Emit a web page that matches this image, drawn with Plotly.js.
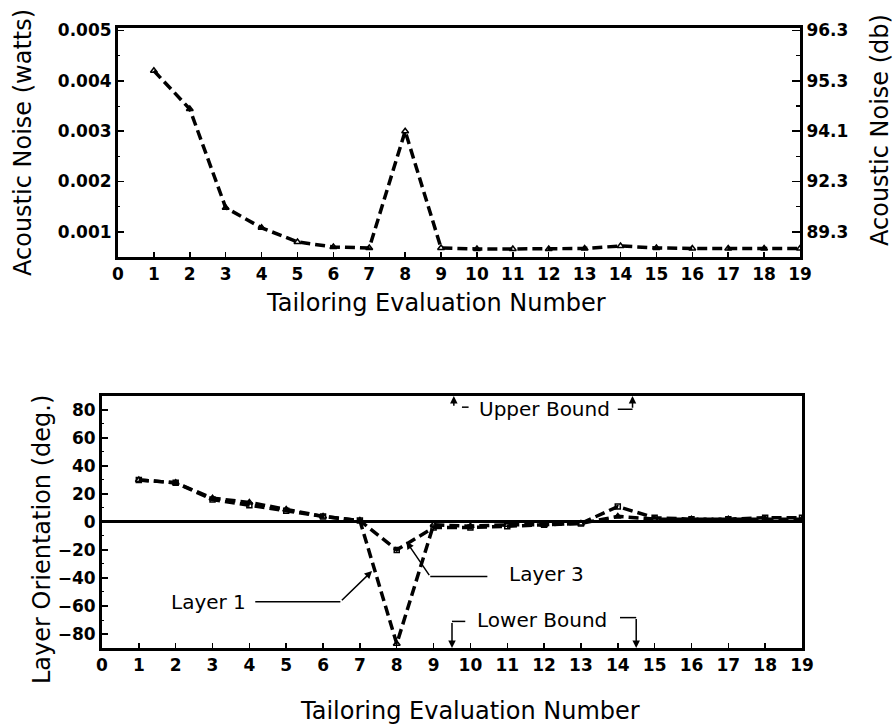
<!DOCTYPE html>
<html>
<head>
<meta charset="utf-8">
<script src="https://cdn.plot.ly/plotly-3.0.1.min.js"></script>
<style>html,body{margin:0;padding:0;background:#fff;}#chart{width:893px;height:724px;}</style>
</head>
<body>
<div id="chart"></div>
<script>
// ---- data ----
const evalNum = [1,2,3,4,5,6,7,8,9,10,11,12,13,14,15,16,17,18,19];
const noiseWatts = [0.0042,0.00344,0.00148,0.00108,0.0008,0.0007,0.00068,0.003,0.00068,0.00066,0.00066,0.00066,0.00067,0.00072,0.00068,0.00067,0.00067,0.00067,0.00067];
const layer1 = [30,28,17,14,9,4,1,-87,-2,-3,-2,-2,-1,4,2,2,2,2,2];
const layer3 = [30,28,16,12,8,4,1,-20,-4,-4,-3,-2,-1,11,3,2,2,3,3];
const wattTicks = [0.001,0.002,0.003,0.004,0.005];
const wattLabels = ['0.001','0.002','0.003','0.004','0.005'];
const dbLabels = ['89.3','92.3','94.1','95.3','96.3'];
const xTicks = [0,1,2,3,4,5,6,7,8,9,10,11,12,13,14,15,16,17,18,19];
const degTicks = [-80,-60,-40,-20,0,20,40,60,80];

const FONT = 'DejaVu Sans, Arial, sans-serif';
const tickFont = {family: FONT, size: 17, color: '#000', weight: 'bold'};
const titleFont = {family: FONT, size: 24, color: '#000'};
const noteFont = {family: FONT, size: 20, color: '#000'};
const dashLine = {color: '#000', width: 3.5, dash: '10px,5px'};

const traces = [
  {x: evalNum, y: noiseWatts, xaxis: 'x', yaxis: 'y', type: 'scatter', mode: 'lines+markers',
   line: dashLine, marker: {symbol: 'triangle-up-open', size: 6, color: '#000', line: {width: 1.5}}, name: 'Acoustic Noise (watts)'},
  // same series on the dB axis (the dB axis is a relabelling of the watts scale)
  {x: evalNum, y: noiseWatts, xaxis: 'x', yaxis: 'y2', type: 'scatter', mode: 'lines',
   line: {color: 'rgba(0,0,0,0)', width: 0}, hoverinfo: 'skip', name: 'Acoustic Noise (db)'},
  {x: evalNum, y: layer1, xaxis: 'x2', yaxis: 'y3', type: 'scatter', mode: 'lines+markers',
   line: dashLine, marker: {symbol: 'triangle-up-open', size: 6, color: '#000', line: {width: 1.5}}, name: 'Layer 1'},
  {x: evalNum, y: layer3, xaxis: 'x2', yaxis: 'y3', type: 'scatter', mode: 'lines+markers',
   line: dashLine, marker: {symbol: 'square-open', size: 5, color: '#000', line: {width: 1.5}}, name: 'Layer 3'}
];

const axisBase = {showgrid: false, zeroline: false, showline: true, linecolor: '#000', linewidth: 3,
  ticks: 'inside', tickcolor: '#000', tickwidth: 1.5, tickfont: tickFont, fixedrange: true};

const layout = {
  width: 893, height: 724,
  margin: {l: 102, r: 91, t: 28, b: 76},
  paper_bgcolor: '#fff', plot_bgcolor: '#fff',
  showlegend: false,
  xaxis: Object.assign({}, axisBase, {domain: [16/700, 698/700], anchor: 'y', range: [0, 19],
    tickvals: xTicks, ticklen: 5, mirror: true}),
  yaxis: Object.assign({}, axisBase, {domain: [0.6306, 1], anchor: 'x', range: [0.0005, 0.00505],
    tickvals: wattTicks, ticktext: wattLabels, ticklen: 6,
    minor: {ticks: 'inside', ticklen: 2, dtick: 0.0005, tick0: 0, tickcolor: '#000', tickwidth: 1}}),
  yaxis2: Object.assign({}, axisBase, {overlaying: 'y', side: 'right', anchor: 'x', range: [0.0005, 0.00505],
    tickvals: wattTicks, ticktext: dbLabels, ticklen: 8,
    minor: {ticks: 'inside', ticklen: 4, dtick: 0.0005, tick0: 0, tickcolor: '#000', tickwidth: 1.5}}),
  xaxis2: Object.assign({}, axisBase, {domain: [0, 1], anchor: 'y3', range: [0, 19],
    tickvals: xTicks, ticklen: 5, mirror: true}),
  yaxis3: Object.assign({}, axisBase, {domain: [0, 0.4065], anchor: 'x2', range: [-90, 90],
    tickvals: degTicks, ticklen: 6, mirror: true,
    zeroline: true, zerolinecolor: '#000', zerolinewidth: 3,
    minor: {ticks: 'inside', ticklen: 2, dtick: 10, tick0: 0, tickcolor: '#000', tickwidth: 1}}),
  shapes: [
    {type: 'line', xref: 'x2', yref: 'y3', x0: 9.77, x1: 9.95, y0: 82, y1: 82, line: {color: '#000', width: 1.5}},
    {type: 'line', xref: 'x2', yref: 'y3', x0: 14.0, x1: 14.4, y0: 80.5, y1: 80.5, line: {color: '#000', width: 1.5}},
    {type: 'line', xref: 'x2', yref: 'y3', x0: 9.5, x1: 9.86, y0: -71, y1: -71, line: {color: '#000', width: 1.5}},
    {type: 'line', xref: 'x2', yref: 'y3', x0: 14.06, x1: 14.5, y0: -68.3, y1: -68.3, line: {color: '#000', width: 1.5}},
    {type: 'line', xref: 'x2', yref: 'y3', x0: 4.16, x1: 6.47, y0: -57, y1: -57, line: {color: '#000', width: 1.5}},
    {type: 'line', xref: 'x2', yref: 'y3', x0: 8.91, x1: 10.46, y0: -39, y1: -39, line: {color: '#000', width: 1.5}}
  ],
  annotations: [
    {xref: 'paper', yref: 'paper', x: 0.477, y: 0.5565, text: 'Tailoring Evaluation Number', showarrow: false,
     xanchor: 'center', yanchor: 'middle', font: titleFont},
    {xref: 'paper', yref: 'paper', x: 0.5257, y: -0.1016, text: 'Tailoring Evaluation Number', showarrow: false,
     xanchor: 'center', yanchor: 'middle', font: titleFont},
    {xref: 'paper', yref: 'paper', x: -0.1129, y: 0.8161, text: 'Acoustic Noise (watts)', showarrow: false,
     textangle: -90, xanchor: 'center', yanchor: 'middle', font: titleFont},
    {xref: 'paper', yref: 'paper', x: 1.1114, y: 0.8355, text: 'Acoustic Noise (db)', showarrow: false,
     textangle: -90, xanchor: 'center', yanchor: 'middle', font: titleFont},
    {xref: 'paper', yref: 'paper', x: -0.0857, y: 0.1742, text: 'Layer Orientation (deg.)', showarrow: false,
     textangle: -90, xanchor: 'center', yanchor: 'middle', font: titleFont},
    {xref: 'x2', yref: 'y3', x: 12.0, y: 81, text: 'Upper Bound', showarrow: false, xanchor: 'center', yanchor: 'middle', font: noteFont},
    {xref: 'x2', yref: 'y3', x: 11.95, y: -69.8, text: 'Lower Bound', showarrow: false, xanchor: 'center', yanchor: 'middle', font: noteFont},
    {xref: 'x2', yref: 'y3', x: 2.88, y: -57.5, text: 'Layer 1', showarrow: false, xanchor: 'center', yanchor: 'middle', font: noteFont},
    {xref: 'x2', yref: 'y3', x: 12.07, y: -37.4, text: 'Layer 3', showarrow: false, xanchor: 'center', yanchor: 'middle', font: noteFont},
    {xref: 'x2', yref: 'y3', axref: 'x2', ayref: 'y3', x: 9.55, y: 90, ax: 9.55, ay: 82, text: '', showarrow: true,
     arrowhead: 2, arrowsize: 1, arrowwidth: 1.5, arrowcolor: '#000'},
    {xref: 'x2', yref: 'y3', axref: 'x2', ayref: 'y3', x: 14.4, y: 90, ax: 14.4, ay: 80.5, text: '', showarrow: true,
     arrowhead: 2, arrowsize: 1, arrowwidth: 1.5, arrowcolor: '#000'},
    {xref: 'x2', yref: 'y3', axref: 'x2', ayref: 'y3', x: 9.5, y: -90, ax: 9.5, ay: -71, text: '', showarrow: true,
     arrowhead: 2, arrowsize: 1, arrowwidth: 1.5, arrowcolor: '#000'},
    {xref: 'x2', yref: 'y3', axref: 'x2', ayref: 'y3', x: 14.5, y: -90, ax: 14.5, ay: -68.3, text: '', showarrow: true,
     arrowhead: 2, arrowsize: 1, arrowwidth: 1.5, arrowcolor: '#000'},
    {xref: 'x2', yref: 'y3', axref: 'x2', ayref: 'y3', x: 7.33, y: -35, ax: 6.47, ay: -57, text: '', showarrow: true,
     arrowhead: 2, arrowsize: 1, arrowwidth: 1.5, arrowcolor: '#000'},
    {xref: 'x2', yref: 'y3', axref: 'x2', ayref: 'y3', x: 8.26, y: -14, ax: 8.91, ay: -39, text: '', showarrow: true,
     arrowhead: 2, arrowsize: 1, arrowwidth: 1.5, arrowcolor: '#000'}
  ]
};

Plotly.newPlot('chart', traces, layout, {staticPlot: true, displayModeBar: false});
</script>
</body>
</html>
